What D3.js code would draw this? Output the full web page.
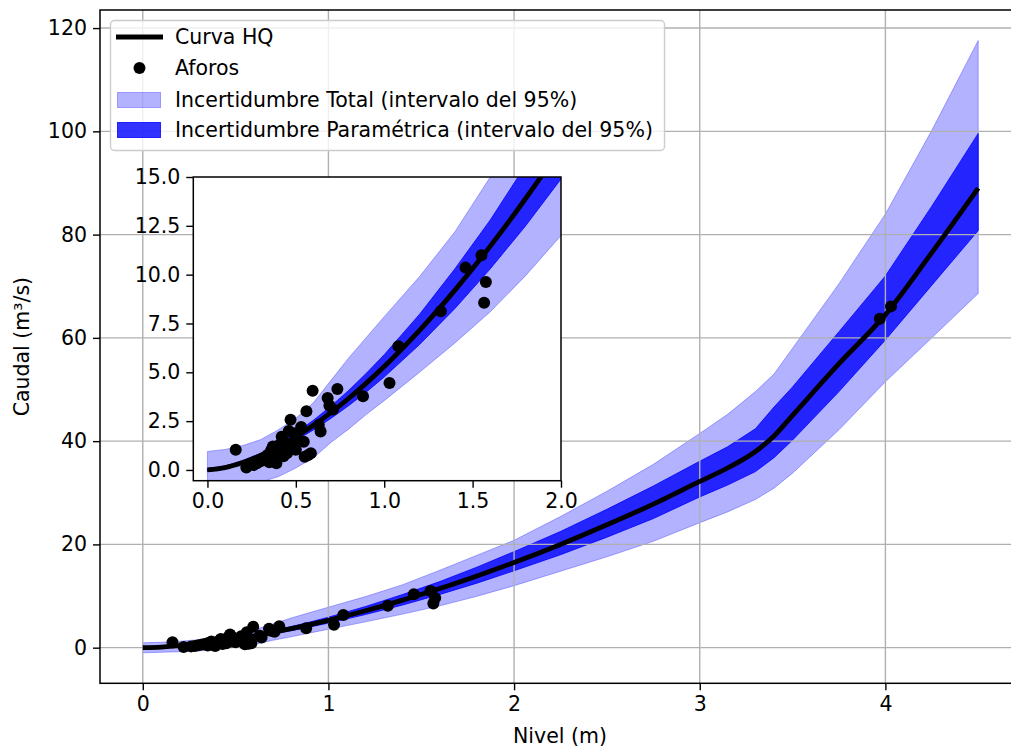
<!DOCTYPE html>
<html lang="es">
<head>
<meta charset="utf-8">
<script src="https://d3js.org/d3.v7.min.js"></script>
<style>
  body { margin: 0; background: #fff; }
  text { font-family: "DejaVu Sans", sans-serif; fill: #000; }
</style>
</head>
<body>
<script>
// rating curve (nivel h -> caudal Q)
const nivel = [0, 0.1, 0.2, 0.3, 0.4, 0.5, 0.6, 0.7, 0.8, 0.9, 1.0, 1.2, 1.4, 1.6, 1.8, 2.0, 2.25, 2.5, 2.75, 3.0, 3.15, 3.3, 3.4, 3.5, 3.75, 4.0, 4.25, 4.5];
const curvaHQ = [0, 0.12, 0.38, 0.74, 1.18, 1.70, 2.29, 2.95, 3.67, 4.46, 5.30, 7.15, 9.21, 11.46, 13.9, 16.5, 20.0, 23.8, 27.8, 32.2, 34.8, 38.0, 41.0, 45.0, 55.0, 64.5, 76.5, 89.0];
const paramSup = [0.08, 0.2, 0.48, 0.85, 1.33, 1.9, 2.55, 3.28, 4.08, 4.96, 5.9, 7.97, 10.3, 12.8, 15.6, 18.6, 22.5, 26.8, 31.3, 36.1, 38.9, 42.4, 46.6, 50.5, 61.2, 72.0, 85.5, 99.6];
const paramInf = [-0.08, 0.06, 0.3, 0.64, 1.04, 1.52, 2.05, 2.65, 3.3, 4.0, 4.76, 6.42, 8.27, 10.3, 12.5, 14.9, 18.0, 21.4, 25.0, 29.2, 31.5, 34.1, 36.8, 40.2, 49.6, 59.6, 70.2, 80.8];
const totalSup = [0.95, 1.05, 1.25, 1.55, 2.05, 2.65, 3.45, 4.6, 5.75, 6.8, 7.85, 9.9, 12.2, 15.0, 17.9, 20.8, 25.4, 30.3, 35.5, 41.5, 45.2, 49.6, 53.0, 58.0, 70.5, 84.0, 100.2, 117.6];
const totalInf = [-1.0, -0.9, -0.78, -0.62, -0.35, 0.1, 0.62, 1.42, 2.1, 2.85, 3.55, 5.0, 6.5, 8.1, 9.95, 12.0, 14.8, 17.6, 20.6, 24.2, 26.3, 28.7, 30.9, 33.8, 42.2, 51.5, 60.0, 68.6];

// gaugings (aforos)
const aforoH = [0.16, 0.22, 0.26, 0.28, 0.30, 0.32, 0.34, 0.35, 0.36, 0.37, 0.38, 0.39, 0.40, 0.41, 0.42, 0.43, 0.44, 0.45, 0.46, 0.47, 0.48, 0.49, 0.50, 0.51, 0.53, 0.545, 0.55, 0.56, 0.57, 0.585, 0.595, 0.63, 0.64, 0.68, 0.69, 0.71, 0.735, 0.88, 1.03, 1.08, 1.32, 1.46, 1.55, 1.575, 1.565, 3.97, 4.03];
const aforoQ = [1.03, 0.12, 0.25, 0.34, 0.45, 0.6, 0.77, 0.4, 1.0, 1.2, 0.6, 0.34, 0.9, 1.3, 1.7, 0.7, 1.4, 0.86, 2.0, 2.57, 1.2, 1.88, 1.03, 1.6, 2.2, 1.45, 0.68, 3.0, 0.77, 0.86, 4.05, 2.3, 1.97, 3.68, 3.3, 3.1, 4.15, 3.77, 4.45, 6.33, 8.13, 10.36, 10.99, 9.62, 8.56, 63.7, 66.1];

const xTicks = [0, 1, 2, 3, 4];
const yTicks = [0, 20, 40, 60, 80, 100, 120];
const insetXTicks = [0, 0.5, 1.0, 1.5, 2.0];
const insetYTicks = [0, 2.5, 5, 7.5, 10, 12.5, 15];

const legendItems = ["Curva HQ", "Aforos", "Incertidumbre Total (intervalo del 95%)", "Incertidumbre Paramétrica (intervalo del 95%)"];

const W = 1011, H = 749;
const FS = 20.5;
const band = nivel.map((h, i) => ({h: h, q: curvaHQ[i], pl: paramInf[i], ph: paramSup[i], tl: totalInf[i], th: totalSup[i]}));
const aforos = aforoH.map((h, i) => ({h: h, q: aforoQ[i]}));

const svg = d3.select("body").append("svg")
  .attr("width", W).attr("height", H);

// main axes box
const mL = 100, mR = 1020, mT = 10, mB = 683.3;
const x = d3.scaleLinear().domain([-0.225, 4.725]).range([mL + 1, mR]);
const y = d3.scaleLinear().domain([-6.9, 123.5]).range([mB, mT]);

svg.append("clipPath").attr("id", "clipMain")
  .append("rect").attr("x", mL).attr("y", mT).attr("width", mR - mL).attr("height", mB - mT);

function drawBands(g, xs, ys) {
  g.append("path").datum(band)
    .attr("d", d3.area().x(d => xs(d.h)).y0(d => ys(d.tl)).y1(d => ys(d.th)))
    .attr("fill", "blue").attr("fill-opacity", 0.3)
    .attr("stroke", "blue").attr("stroke-opacity", 0.3).attr("stroke-width", 1);
  g.append("path").datum(band)
    .attr("d", d3.area().x(d => xs(d.h)).y0(d => ys(d.pl)).y1(d => ys(d.ph)))
    .attr("fill", "blue").attr("fill-opacity", 0.8)
    .attr("stroke", "blue").attr("stroke-opacity", 0.8).attr("stroke-width", 1);
}
function drawCurve(g, xs, ys, r, lw) {
  g.append("path").datum(band)
    .attr("d", d3.line().x(d => xs(d.h)).y(d => ys(d.q)).curve(d3.curveMonotoneX))
    .attr("fill", "none").attr("stroke", "#000").attr("stroke-width", lw);
  g.selectAll("circle").data(aforos).join("circle")
    .attr("cx", d => xs(d.h)).attr("cy", d => ys(d.q)).attr("r", r)
    .attr("fill", "#000");
}

const main = svg.append("g").attr("clip-path", "url(#clipMain)");
drawBands(main, x, y);

// grid lines (drawn above the bands, as in the original)
const grid = svg.append("g").attr("stroke", "#b0b0b0").attr("stroke-width", 1.4);
grid.selectAll(".gx").data(xTicks).join("line").attr("class", "gx")
  .attr("x1", d => x(d)).attr("x2", d => x(d)).attr("y1", mT).attr("y2", mB);
grid.selectAll(".gy").data(yTicks).join("line").attr("class", "gy")
  .attr("x1", mL).attr("x2", mR).attr("y1", d => y(d)).attr("y2", d => y(d));

const mainTop = svg.append("g").attr("clip-path", "url(#clipMain)");
drawCurve(mainTop, x, y, 6, 4.8);

// axes
const xAxis = svg.append("g").attr("transform", `translate(0,${mB})`)
  .call(d3.axisBottom(x).tickValues(xTicks).tickFormat(d3.format("d")).tickSize(7).tickPadding(6));
const yAxis = svg.append("g").attr("transform", `translate(${mL},0)`)
  .call(d3.axisLeft(y).tickValues(yTicks).tickFormat(d3.format("d")).tickSize(7).tickPadding(6));
[xAxis, yAxis].forEach(a => {
  a.select(".domain").remove();
  a.selectAll("line").attr("stroke", "#000").attr("stroke-width", 1.4);
  a.selectAll("text").attr("font-size", FS).attr("font-family", "DejaVu Sans").attr("fill", "#000");
});
svg.append("rect").attr("x", mL).attr("y", mT).attr("width", mR - mL).attr("height", mB - mT)
  .attr("fill", "none").attr("stroke", "#000").attr("stroke-width", 1.5);

svg.append("text").attr("x", (mL + mR) / 2).attr("y", 743)
  .attr("text-anchor", "middle").attr("font-size", FS).text("Nivel (m)");
svg.append("text").attr("transform", `translate(29,${(mT + mB) / 2}) rotate(-90)`)
  .attr("text-anchor", "middle").attr("font-size", FS).text("Caudal (m³/s)");

// legend
const lg = svg.append("g");
lg.append("rect").attr("x", 110.5).attr("y", 20.5).attr("width", 554).attr("height", 130)
  .attr("rx", 4).attr("fill", "#fff").attr("fill-opacity", 0.8)
  .attr("stroke", "#cccccc").attr("stroke-width", 1.4);
const rowY = [37, 68, 100, 130];
lg.append("line").attr("x1", 116).attr("x2", 163).attr("y1", rowY[0]).attr("y2", rowY[0])
  .attr("stroke", "#000").attr("stroke-width", 4.8);
lg.append("circle").attr("cx", 139.5).attr("cy", rowY[1]).attr("r", 6).attr("fill", "#000");
lg.append("rect").attr("x", 117.5).attr("y", rowY[2] - 7.5).attr("width", 43).attr("height", 15)
  .attr("fill", "blue").attr("fill-opacity", 0.3).attr("stroke", "blue").attr("stroke-opacity", 0.3);
lg.append("rect").attr("x", 117.5).attr("y", rowY[3] - 7.5).attr("width", 43).attr("height", 15)
  .attr("fill", "blue").attr("fill-opacity", 0.8).attr("stroke", "blue").attr("stroke-opacity", 0.8);
lg.selectAll(".lt").data(legendItems).join("text").attr("class", "lt")
  .attr("x", 175).attr("y", (d, i) => rowY[i]).attr("dy", "0.35em")
  .attr("font-size", FS).text(d => d);

// inset
const iL = 193.3, iR = 561, iT = 177, iB = 480.7;
const xi = d3.scaleLinear().domain([-0.08, 2.0]).range([iL, iR]);
const yi = d3.scaleLinear().domain([-0.55, 15]).range([iB, iT]);
svg.append("clipPath").attr("id", "clipInset")
  .append("rect").attr("x", iL).attr("y", iT).attr("width", iR - iL).attr("height", iB - iT);
svg.append("rect").attr("x", iL).attr("y", iT).attr("width", iR - iL).attr("height", iB - iT).attr("fill", "#fff");
const inset = svg.append("g").attr("clip-path", "url(#clipInset)");
drawBands(inset, xi, yi);
drawCurve(inset, xi, yi, 6, 4.8);

const ixAxis = svg.append("g").attr("transform", `translate(0,${iB})`)
  .call(d3.axisBottom(xi).tickValues(insetXTicks).tickFormat(d3.format(".1f")).tickSize(7).tickPadding(6));
const iyAxis = svg.append("g").attr("transform", `translate(${iL},0)`)
  .call(d3.axisLeft(yi).tickValues(insetYTicks).tickFormat(d3.format(".1f")).tickSize(7).tickPadding(6));
[ixAxis, iyAxis].forEach(a => {
  a.select(".domain").remove();
  a.selectAll("line").attr("stroke", "#000").attr("stroke-width", 1.4);
  a.selectAll("text").attr("font-size", FS).attr("font-family", "DejaVu Sans").attr("fill", "#000");
});
svg.append("rect").attr("x", iL).attr("y", iT).attr("width", iR - iL).attr("height", iB - iT)
  .attr("fill", "none").attr("stroke", "#000").attr("stroke-width", 1.5);
</script>
</body>
</html>
